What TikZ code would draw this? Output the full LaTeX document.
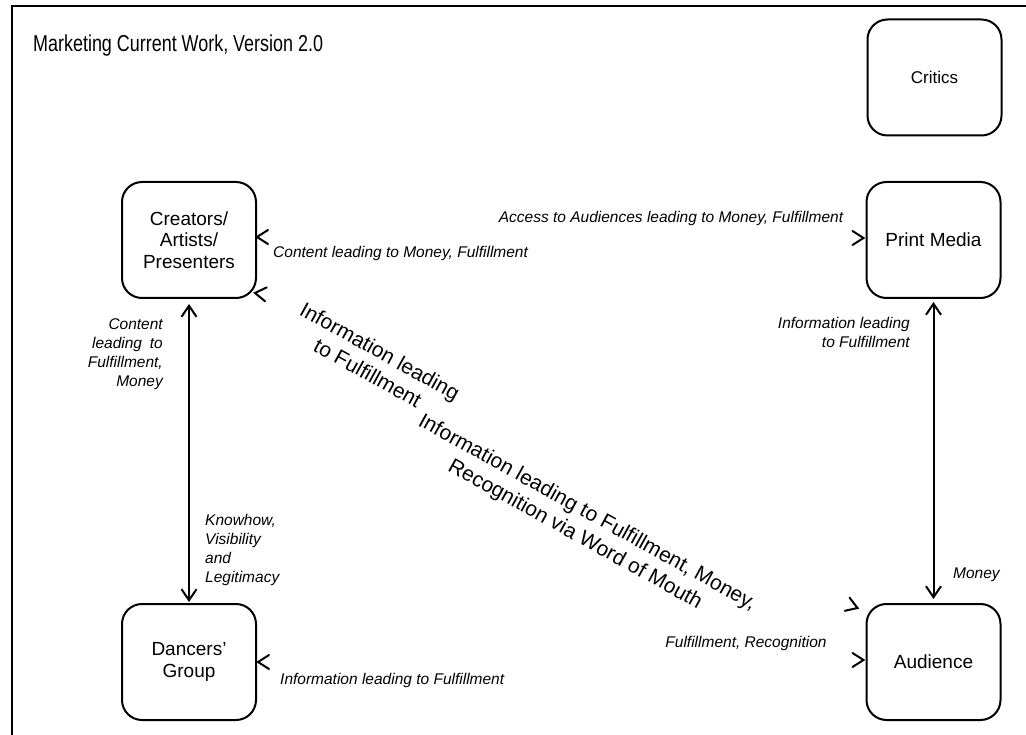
\documentclass[tikz,border=0pt]{standalone}
\usepackage{fontspec}
\setmainfont{Liberation Sans}
\newfontfamily\titlefont[FakeStretch=0.78]{Liberation Sans}
\usetikzlibrary{arrows.meta}
\tikzset{
  box/.style={draw, line width=2pt, rounded corners=20pt, minimum width=134pt, minimum height=116pt, align=center, inner sep=0pt, font=\fontsize{19}{21.3}\selectfont},
  lab/.style={inner sep=0pt, font=\fontsize{15.5}{19}\selectfont\itshape},
  big/.style={inner sep=0pt, align=center, font=\fontsize{21}{25}\selectfont},
  flow/.style={line width=2pt, {Straight Barb[length=11pt,width=15pt]}-{Straight Barb[length=11pt,width=15pt]}},
  chevline/.style={line width=2pt, line cap=round},
  chev/.pic={\draw[chevline] (-11,7) -- (0,0) -- (-11,-7);}
}
\begin{document}
\begin{tikzpicture}[x=1pt, y=-1pt]
\useasboundingbox (0,0) rectangle (1026,735);
% frame
\coordinate (fa) at (12,740);
\coordinate (fb) at (12,6);
\coordinate (fc) at (1030,6);
\draw[line width=2pt] (fa) -- (fb) -- (fc);
% title
\node[anchor=west, inner sep=0pt, font=\titlefont\fontsize{23}{26}\selectfont] (title) at (33,46) {Marketing Current Work, Version 2.0};
% boxes
\node[box, font=\fontsize{17}{20}\selectfont] (cri) at (934.5,77.5) {Critics};
\node[box] (cre) at (189,240) {Creators/\\Artists/\\Presenters};
\node[box] (pri) at (933.5,240) {Print Media};
\node[box] (dan) at (189,662) {Dancers'\\Group};
\node[box] (aud) at (933.5,662) {Audience};
% vertical connectors
\draw[flow, shorten <=5pt, shorten >=1pt] (cre) -- (dan);
\draw[flow, shorten <=3pt, shorten >=4pt] (pri) -- (aud);
% arrowheads
\pic[rotate=180] at ([yshift=3pt]cre.east) {chev};
\pic[rotate=173] at ([shift={(-2,-6)}]cre.south east) {chev};
\pic at ([shift={(-2,-2)}]pri.west) {chev};
\pic[rotate=180] at ([shift={(1,0)}]dan.east) {chev};
\pic at ([shift={(-2,-2)}]aud.west) {chev};
\pic[rotate=-20] at ([shift={(-8,5)}]aud.north west) {chev};
% labels
\node[lab, anchor=west] (l1) at (273,253) {Content leading to Money, Fulfillment};
\node[lab] (l2) at (671,218) {Access to Audiences leading to Money, Fulfillment};
\node[lab, align=right, anchor=east] (l3) at (163,354) {Content\\leading\enspace to\\Fulfillment,\\Money};
\node[lab, align=left, anchor=west] (l4) at (205,550) {Knowhow,\\Visibility\\and\\Legitimacy};
\node[lab, align=right, anchor=east] (l5) at (910,332) {Information leading\\to Fulfillment};
\node[lab, anchor=west] (l6) at (953,575) {Money};
\node[lab] (l7) at (746,643) {Fulfillment, Recognition};
\node[lab, anchor=west] (l8) at (280,680) {Information leading to Fulfillment};
\node[big, rotate=-29] (r1) at (374,362) {Information leading\\to Fulfillment};
\node[big, rotate=-29] (r2) at (581,524) {Information leading to Fulfillment, Money,\\Recognition via Word of Mouth};
\end{tikzpicture}
\end{document}
